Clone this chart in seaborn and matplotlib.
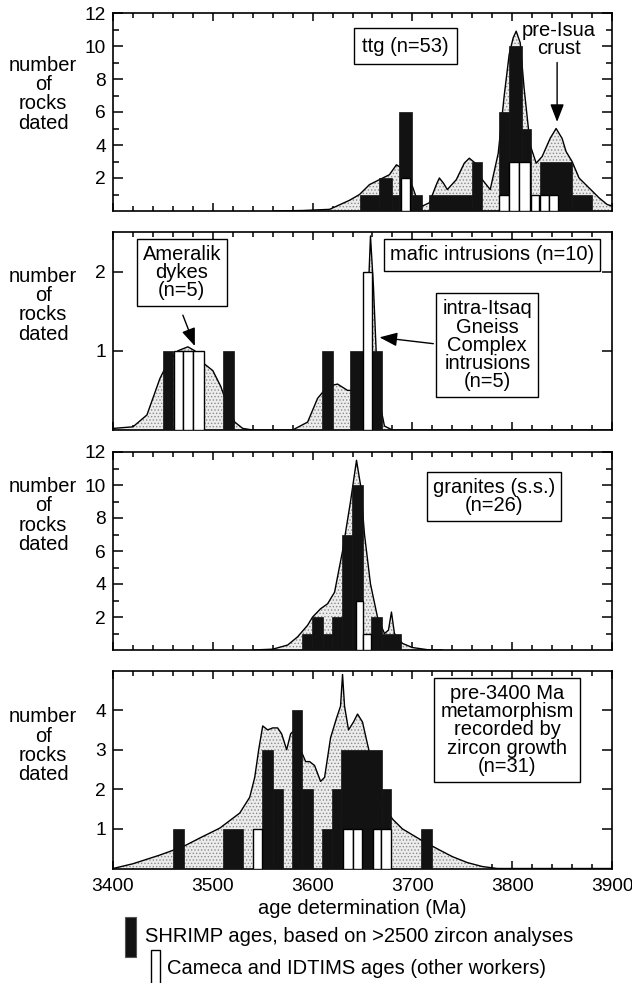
import matplotlib
matplotlib.use('Agg')
import matplotlib.pyplot as plt
from matplotlib.patches import Rectangle
from matplotlib.ticker import MultipleLocator, FixedLocator
import seaborn as sns
import pandas as pd

sns.set_theme(style='ticks')
plt.rcParams['font.family'] = ['Liberation Sans', 'DejaVu Sans']
plt.rcParams['text.color'] = 'black'
plt.rcParams['axes.labelcolor'] = 'black'
plt.rcParams['hatch.color'] = '#8a8a8a'
plt.rcParams['hatch.linewidth'] = 0.6

# ---- panel 1: ttg (n=53) ----
ttg_curve_age = [3560, 3590, 3617, 3637, 3647, 3657, 3667, 3677, 3684, 3692, 3700, 3704, 3710, 3717,
                 3724, 3727, 3731, 3735, 3744, 3752, 3757, 3763, 3770, 3778, 3786, 3792, 3797, 3801,
                 3804, 3808, 3812, 3818, 3824, 3830, 3838, 3844, 3850, 3854, 3860, 3867, 3877, 3887,
                 3895, 3900]
ttg_curve_n = [0, 0.03, 0.1, 0.65, 1.0, 1.6, 1.9, 2.2, 2.8, 2.5, 1.5, 0.8, 0.3, 0.5,
               1.6, 2.0, 1.7, 1.3, 1.9, 2.9, 3.2, 2.9, 1.9, 1.3, 3.5, 7.0, 9.5, 10.5,
               10.9, 10.2, 7.4, 4.0, 2.9, 3.3, 4.4, 5.0, 4.4, 3.6, 3.0, 2.0, 1.4, 0.8,
               0.4, 0.3]
ttg_black_from = [3647, 3667, 3680, 3687, 3700, 3717, 3760, 3787, 3797, 3810, 3828, 3860]
ttg_black_to = [3667, 3680, 3687, 3700, 3710, 3760, 3770, 3797, 3810, 3819, 3860, 3880]
ttg_black_n = [1, 2, 1, 6, 1, 1, 3, 6, 10, 5, 3, 1]
ttg_white_from = [3689, 3787, 3797, 3807, 3819, 3828, 3837]
ttg_white_to = [3698, 3797, 3807, 3818, 3827, 3837, 3846]
ttg_white_n = [2, 1, 3, 3, 1, 1, 1]

# ---- panel 2: mafic intrusions (n=10) ----
maf_curve_age = [3400, 3420, 3434, 3447, 3455, 3465, 3475, 3482, 3490, 3500, 3508, 3515, 3522, 3530,
                 3540, 3580, 3595, 3605, 3615, 3625, 3635, 3645, 3652, 3656, 3658, 3661, 3664,
                 3668, 3672, 3680, 3900]
maf_curve_n = [0.02, 0.04, 0.19, 0.65, 0.85, 1.0, 1.05, 1.0, 0.85, 0.75, 0.55, 0.3, 0.1, 0.02,
               0, 0, 0.1, 0.4, 0.55, 0.58, 0.5, 0.5, 0.8, 1.8, 2.45, 1.8, 0.9,
               0.3, 0.05, 0, 0]
maf_black_from = [3450, 3510, 3609, 3637, 3660]
maf_black_to = [3460, 3521, 3620, 3650, 3670]
maf_black_n = [1, 1, 1, 1, 1]
maf_white_from = [3461, 3470, 3480, 3650]
maf_white_to = [3470, 3480, 3491, 3660]
maf_white_n = [1, 1, 1, 2]

# ---- panel 3: granites (n=26) ----
gra_curve_age = [3540, 3560, 3575, 3585, 3595, 3600, 3608, 3615, 3622, 3630, 3638, 3644, 3648, 3652,
                 3658, 3665, 3672, 3676, 3679, 3682, 3690, 3700, 3715, 3730]
gra_curve_n = [0, 0.05, 0.3, 0.8, 1.5, 2.0, 2.5, 2.8, 3.5, 6.0, 9.0, 11.5, 10.0, 7.0,
               4.0, 2.0, 1.0, 1.2, 2.3, 1.0, 0.4, 0.15, 0.02, 0]
gra_black_from = [3589, 3599, 3610, 3619, 3629, 3639, 3650, 3659, 3670]
gra_black_to = [3599, 3610, 3619, 3629, 3639, 3650, 3659, 3670, 3689]
gra_black_n = [1, 2, 1, 2, 7, 10, 1, 2, 1]
gra_white_from = [3643, 3650]
gra_white_to = [3650, 3659]
gra_white_n = [3, 1]

# ---- panel 4: metamorphism (n=31) ----
met_curve_age = [3400, 3420, 3447, 3470, 3487, 3507, 3527, 3537, 3542, 3546, 3550, 3555, 3560, 3565,
                 3569, 3574, 3578, 3582, 3588, 3593, 3597, 3602, 3608, 3612, 3618, 3624, 3628, 3630,
                 3632, 3636, 3641, 3645, 3650, 3654, 3660, 3667, 3674, 3680, 3690, 3700, 3710, 3727,
                 3740, 3755, 3770, 3785, 3900]
met_curve_n = [0, 0.12, 0.34, 0.55, 0.77, 1.02, 1.4, 1.8, 2.3, 3.0, 3.6, 3.5, 3.55, 3.55,
               3.4, 3.0, 3.4, 3.5, 3.0, 2.7, 2.7, 2.6, 2.2, 2.3, 3.3, 3.8, 4.1, 4.9,
               4.1, 3.5, 3.7, 3.9, 3.7, 3.25, 2.6, 1.9, 1.5, 1.25, 1.0, 0.85, 0.7, 0.47,
               0.3, 0.15, 0.05, 0.0, 0]
met_black_from = [3460, 3510, 3549, 3560, 3579, 3589, 3609, 3619, 3628, 3670, 3709]
met_black_to = [3471, 3530, 3560, 3570, 3589, 3600, 3619, 3628, 3670, 3679, 3720]
met_black_n = [1, 1, 3, 2, 4, 2, 1, 2, 3, 2, 1]
met_white_from = [3540, 3630, 3640, 3661, 3669]
met_white_to = [3549, 3640, 3649, 3669, 3679]
met_white_n = [1, 1, 1, 1, 1]

FS = 14.5
TICK_FS = 13.8
fig = plt.figure(figsize=(6.32, 9.83), dpi=100)
left, width, height = 113 / 632, 499 / 632, 198 / 983
bottoms = [(983 - 211) / 983, (983 - 430) / 983, (983 - 650) / 983, (983 - 868.5) / 983]
axes = [fig.add_axes([left, b, width, height]) for b in bottoms]


def draw_panel(ax, c_age, c_n, b_from, b_to, b_n, w_from, w_to, w_n, ymax, yticks, yminor, label_y):
    curve = pd.DataFrame({'age': c_age, 'n': c_n})
    ax.fill_between(curve['age'], 0, curve['n'], facecolor='#ececec', hatch='.....',
                    edgecolor='#8a8a8a', linewidth=0, zorder=1)
    sns.lineplot(data=curve, x='age', y='n', ax=ax, color='black', linewidth=1.0,
                 estimator=None, sort=False, zorder=2)
    bw = [t - f for f, t in zip(b_from, b_to)]
    ax.bar(b_from, b_n, width=bw, align='edge', color='#121212', edgecolor='#121212',
           linewidth=0.5, zorder=3)
    ww = [t - f for f, t in zip(w_from, w_to)]
    ax.bar(w_from, w_n, width=ww, align='edge', color='white', edgecolor='black',
           linewidth=1.0, zorder=4)
    ax.set_xlim(3400, 3900)
    ax.set_ylim(0, ymax)
    ax.xaxis.set_major_locator(MultipleLocator(100))
    ax.xaxis.set_minor_locator(MultipleLocator(20))
    ax.yaxis.set_major_locator(FixedLocator(yticks))
    ax.yaxis.set_minor_locator(FixedLocator(yminor))
    ax.tick_params(axis='both', which='both', direction='in', top=True, right=True,
                   colors='black', labelcolor='black', labelsize=TICK_FS, width=1.1)
    ax.tick_params(axis='y', which='major', length=7, pad=5)
    ax.tick_params(axis='y', which='minor', length=4.5)
    ax.tick_params(axis='x', which='major', length=5.5, pad=7)
    ax.tick_params(axis='x', which='minor', length=3.5)
    for s in ax.spines.values():
        s.set_linewidth(1.2)
        s.set_color('black')
    ax.set_xlabel('')
    ax.set_ylabel('')
    ax.set_facecolor('white')
    ax.text(-0.14, label_y, 'number\nof\nrocks\ndated', transform=ax.transAxes, ha='center',
            va='center', fontsize=FS, linespacing=1.02)


box = dict(boxstyle='square,pad=0.3', facecolor='white', edgecolor='black', linewidth=1.0)
arrow = dict(arrowstyle='-|>,head_length=0.9,head_width=0.35', color='black', linewidth=1.0,
             shrinkA=0, shrinkB=0)

ax1, ax2, ax3, ax4 = axes
draw_panel(ax1, ttg_curve_age, ttg_curve_n, ttg_black_from, ttg_black_to, ttg_black_n,
           ttg_white_from, ttg_white_to, ttg_white_n, 12, [2, 4, 6, 8, 10, 12],
           [1, 3, 5, 7, 9, 11], 0.59)
ax1.text(3693, 10.0, 'ttg (n=53)', ha='center', va='center', fontsize=FS, zorder=6,
         bbox=dict(boxstyle='square,pad=0.4', facecolor='white', edgecolor='black', linewidth=1.0))
ax1.text(3847, 10.4, 'pre-Isua\ncrust', ha='center', va='center', fontsize=FS, linespacing=0.98,
         zorder=6)
ax1.annotate('', xy=(3845, 5.4), xytext=(3845, 9.0), arrowprops=arrow, zorder=6)

draw_panel(ax2, maf_curve_age, maf_curve_n, maf_black_from, maf_black_to, maf_black_n,
           maf_white_from, maf_white_to, maf_white_n, 2.5, [1, 2], [], 0.63)
ax2.text(3780, 2.21, 'mafic intrusions (n=10)', ha='center', va='center', fontsize=FS, bbox=box,
         zorder=6)
ax2.text(3775, 1.07, 'intra-Itsaq\nGneiss\nComplex\nintrusions\n(n=5)', ha='center', va='center',
         fontsize=FS, linespacing=0.95, bbox=box, zorder=6)
ax2.annotate('', xy=(3667, 1.17), xytext=(3721, 1.09), arrowprops=arrow, zorder=6)
ax2.text(3469, 1.99, 'Ameralik\ndykes\n(n=5)', ha='center', va='center', fontsize=FS,
         linespacing=0.95, bbox=box, zorder=6)
ax2.annotate('', xy=(3482, 1.06), xytext=(3470, 1.45), arrowprops=arrow, zorder=6)

draw_panel(ax3, gra_curve_age, gra_curve_n, gra_black_from, gra_black_to, gra_black_n,
           gra_white_from, gra_white_to, gra_white_n, 12, [2, 4, 6, 8, 10, 12],
           [1, 3, 5, 7, 9, 11], 0.68)
ax3.text(3782, 9.3, 'granites (s.s.)\n(n=26)', ha='center', va='center', fontsize=FS,
         linespacing=0.95, bbox=box, zorder=6)

draw_panel(ax4, met_curve_age, met_curve_n, met_black_from, met_black_to, met_black_n,
           met_white_from, met_white_to, met_white_n, 5, [1, 2, 3, 4], [], 0.62)
ax4.text(3795, 3.5, 'pre-3400 Ma\nmetamorphism\nrecorded by\nzircon growth\n(n=31)', ha='center',
         va='center', fontsize=FS, linespacing=0.95, bbox=box, zorder=6)

for ax in axes[:3]:
    ax.tick_params(axis='x', labelbottom=False)
ax4.text(0.5, -0.2, 'age determination (Ma)', transform=ax4.transAxes, ha='center', va='center',
         fontsize=FS)

# legend
fig.patches.append(Rectangle((125 / 632, 26 / 983), 11 / 632, 40 / 983, transform=fig.transFigure,
                             facecolor='#121212', edgecolor='#555555', linewidth=0.8))
fig.text(145 / 632, 47 / 983, 'SHRIMP ages, based on >2500 zircon analyses', fontsize=FS,
         va='center', ha='left')
fig.patches.append(Rectangle((151 / 632, -12 / 983), 9 / 632, 45 / 983, transform=fig.transFigure,
                             facecolor='white', edgecolor='black', linewidth=1.0))
fig.text(167 / 632, 14 / 983, 'Cameca and IDTIMS ages (other workers)', fontsize=FS,
         va='center', ha='left')

plt.savefig('out.png', dpi=100)
